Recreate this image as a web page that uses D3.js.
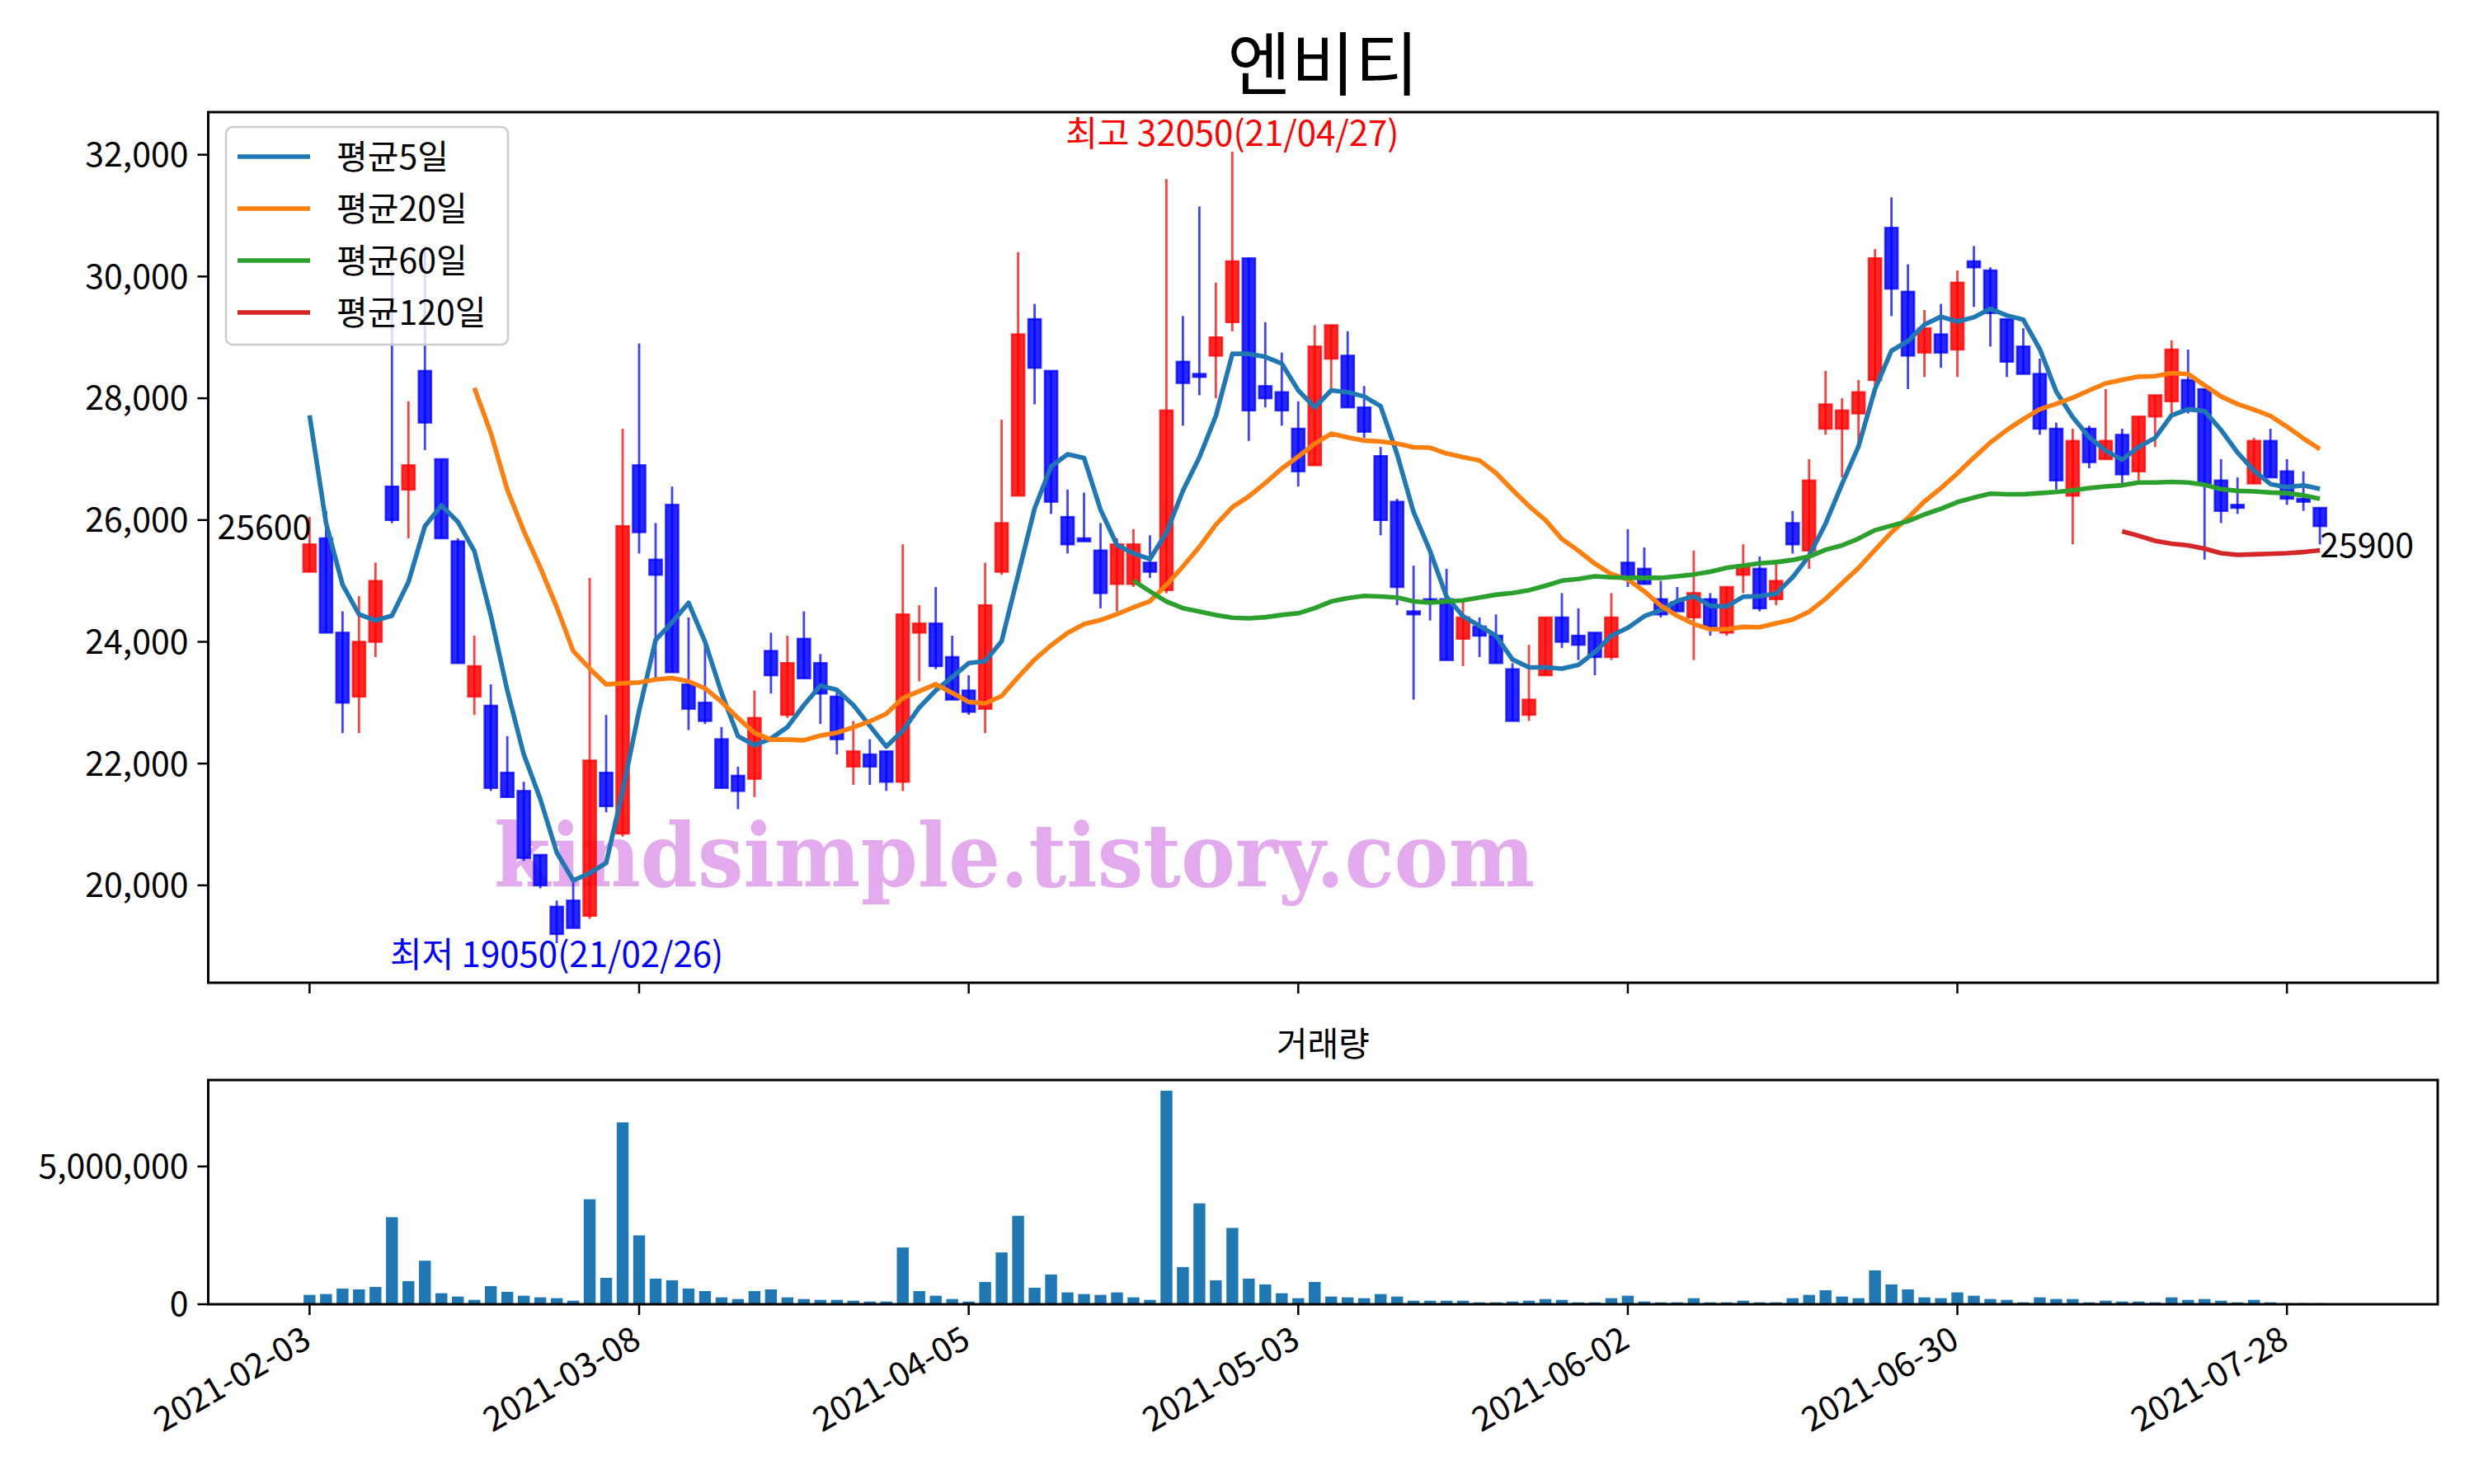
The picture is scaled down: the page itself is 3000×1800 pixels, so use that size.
<!DOCTYPE html>
<html><head><meta charset="utf-8">
<script src="https://cdn.jsdelivr.net/npm/d3@7"></script>
<style>
body{margin:0;background:#fff}
text{font-family:"Noto Sans CJK KR","Noto Sans",sans-serif}
</style>
</head><body>
<svg id="c" width="3000" height="1800" xmlns="http://www.w3.org/2000/svg"></svg>
<script>
// ---------------- data ----------------
const title = "엔비티";
const tickIdx = [0, 20, 40, 60, 80, 100, 120];
const tickLabels = ["2021-02-03","2021-03-08","2021-04-05","2021-05-03","2021-06-02","2021-06-30","2021-07-28"];
const priceTicks = [20000, 22000, 24000, 26000, 28000, 30000, 32000];
const volumeTicks = [0, 5000000];

const open = [25150,25700,24150,23100,24000,26550,26500,28450,27000,25650,
23100,22950,21850,21550,20500,19650,19750,19500,21850,20850,
26900,25350,26250,23300,23000,22400,21800,21750,23850,22800,
24050,23650,23100,21950,22150,22200,21700,24150,24300,23750,
23200,22900,25150,26400,29300,28450,26050,25700,25500,24950,
24950,25300,24850,28600,28400,28700,29250,30300,28200,28100,
27500,26900,28650,28700,27850,27050,26300,24500,24700,24700,
24050,24250,24100,23550,22800,23450,24400,24100,24150,23750,
25300,25200,24700,24650,24400,24700,24150,25100,25200,24700,
25950,25500,27500,27500,27750,28300,30800,29750,28750,29050,
28800,30250,30100,29300,28850,28400,27500,26400,27500,27000,
27400,26800,27700,27950,28300,28150,26650,26250,26600,27300,
26800,26350,26200];
const high = [26050,26150,24500,24750,25300,30100,27950,30500,27000,25700,
24100,23300,22450,21700,20500,19750,20050,25050,22800,27500,
28900,25950,26550,24400,24000,22600,21950,23200,24150,24100,
24500,23800,23200,22700,22400,22200,25600,24600,24900,24100,
23450,25300,27650,30400,29550,28450,26500,26450,25950,25700,
25850,25750,31600,29350,31150,29900,32050,30300,29250,28750,
27950,29200,29200,29100,28200,27200,26350,25250,25500,25200,
24700,24400,24450,23650,23950,24400,24800,24550,24150,24800,
25850,25550,25000,24900,25500,24800,24900,25600,25400,25350,
26150,27000,28450,28000,28300,30450,31300,30200,29450,29550,
30100,30500,30150,29300,29150,28650,27600,27500,27550,28150,
27500,27700,28050,28950,28800,28150,27000,26700,27350,27500,
27000,26800,26200];
const low = [25150,24150,22500,22500,23750,25950,25700,27150,25700,23650,
22800,21550,21450,20400,19950,19050,19300,19450,21200,20800,
25450,23350,23500,22550,22650,21600,21250,21450,23150,22750,
23400,22650,22150,21650,21650,21550,21550,23350,23550,23050,
22800,22500,25100,26400,27900,26100,25450,25650,24550,24500,
24900,25050,24800,27550,28050,28000,29100,27300,27850,27550,
26550,26900,28150,27850,27350,25750,24600,23050,24350,23700,
23600,23750,23650,22700,22700,23450,23900,23700,23450,23700,
24900,24950,24400,24500,23700,24100,24100,24800,24500,24600,
25450,25200,27400,26700,27250,28050,29350,28150,28350,28500,
28350,29500,28850,28350,28400,27400,26500,25600,26850,27000,
26600,26650,27200,27750,27750,25350,25950,26100,26600,26700,
26250,26150,25600];
const close = [25600,24150,23000,24000,25000,26000,26900,27600,25700,23650,
23600,21600,21450,20450,20000,19200,19300,22050,21300,25900,
25800,25100,23500,22900,22700,21600,21550,22750,23450,23650,
23400,23150,22400,22200,21950,21700,24450,24300,23600,23050,
22850,24600,25950,29050,28500,26300,25600,25650,24800,25600,
25600,25150,27800,28250,28350,29000,30250,27800,28000,27800,
26800,28850,29200,27850,27450,26000,24900,24450,24650,23700,
24400,24100,23650,22700,23050,24400,24000,23950,23750,24400,
25050,24950,24450,24500,24800,24250,24900,25250,24550,25000,
25600,26650,27900,27800,28100,30300,29800,28700,29150,28750,
29900,30150,29400,28600,28400,27500,26650,27300,26950,27300,
26750,27700,28050,28800,27800,26600,26150,26200,27300,26700,
26350,26300,25900];
const volume = [340000,370000,570000,540000,630000,3160000,840000,1580000,400000,280000,
160000,660000,450000,310000,250000,220000,130000,3810000,960000,6600000,
2500000,930000,870000,570000,480000,250000,190000,480000,540000,250000,
190000,160000,160000,130000,100000,100000,2060000,480000,310000,190000,
100000,810000,1880000,3210000,600000,1080000,430000,370000,340000,430000,
250000,160000,7750000,1350000,3660000,870000,2770000,930000,720000,400000,
220000,810000,280000,250000,220000,370000,280000,130000,130000,130000,
130000,70000,70000,100000,130000,190000,160000,70000,70000,220000,
310000,100000,70000,70000,220000,70000,70000,130000,70000,70000,
220000,340000,510000,280000,220000,1230000,720000,540000,250000,220000,
430000,310000,190000,160000,70000,250000,190000,190000,70000,130000,
100000,100000,70000,250000,160000,190000,130000,70000,160000,70000,
40000,40000,40000];
const ma5 = [27720,25950,24940,24450,24350,24430,24980,25900,26240,25970,
25490,24430,23200,22150,21420,20540,20080,20200,20370,21550,
22870,24030,24320,24640,24000,23160,22450,22300,22410,22600,
22960,23280,23210,22960,22620,22280,22540,22920,23200,23420,
23650,23680,24010,25100,26190,26880,27080,27020,26170,25590,
25450,25360,25790,26480,27030,27710,28730,28730,28680,28570,
28130,27850,28130,28100,28030,27870,27080,26130,25490,24740,
24420,24260,24100,23710,23580,23580,23560,23620,23830,24100,
24230,24420,24520,24670,24750,24590,24580,24740,24750,24790,
25060,25410,25940,26590,27210,28150,28780,28940,29210,29340,
29260,29330,29470,29360,29290,28810,28110,27690,27360,27140,
26990,27200,27350,27720,27820,27790,27480,27110,26810,26590,
26540,26570,26510];
const ma20 = [null,null,null,null,null,null,null,null,null,null,
28170,27430,26500,25820,25220,24570,23850,23560,23300,23320,
23333,23380,23405,23350,23235,23015,22748,22505,22393,22393,
22383,22460,22508,22595,22693,22818,23075,23188,23303,23160,
23013,22988,23110,23418,23708,23943,24145,24290,24358,24455,
24565,24665,24935,25238,25558,25923,26213,26388,26608,26845,
27043,27255,27418,27358,27305,27290,27255,27195,27188,27093,
27033,26980,26773,26495,26230,26000,25688,25495,25283,25113,
25025,24830,24593,24425,24293,24205,24205,24245,24240,24305,
24365,24493,24705,24960,25213,25508,25798,26035,26305,26523,
26765,27025,27273,27478,27658,27820,27908,28010,28130,28245,
28303,28355,28363,28413,28398,28213,28030,27905,27813,27710,
27533,27340,27165];
const ma60 = [null,null,null,null,null,null,null,null,null,null,
null,null,null,null,null,null,null,null,null,null,
null,null,null,null,null,null,null,null,null,null,
null,null,null,null,null,null,null,null,null,null,
null,null,null,null,null,null,null,null,null,null,
25004,24829,24662,24552,24497,24441,24395,24386,24404,24441,
24469,24552,24662,24718,24755,24745,24727,24662,24644,24662,
24681,24727,24773,24801,24847,24921,25004,25031,25077,25059,
25050,25050,25050,25077,25105,25151,25216,25253,25290,25308,
25345,25400,25511,25584,25695,25833,25907,25981,26092,26184,
26294,26368,26433,26424,26424,26442,26461,26488,26525,26553,
26571,26617,26617,26627,26617,26580,26507,26479,26470,26452,
26442,26405,26350];
const ma120 = [null,null,null,null,null,null,null,null,null,null,
null,null,null,null,null,null,null,null,null,null,
null,null,null,null,null,null,null,null,null,null,
null,null,null,null,null,null,null,null,null,null,
null,null,null,null,null,null,null,null,null,null,
null,null,null,null,null,null,null,null,null,null,
null,null,null,null,null,null,null,null,null,null,
null,null,null,null,null,null,null,null,null,null,
null,null,null,null,null,null,null,null,null,null,
null,null,null,null,null,null,null,null,null,null,
null,null,null,null,null,null,null,null,null,null,
25815,25741,25658,25612,25584,25529,25455,25428,25437,25446,
25455,25474,25502];
const maNames = ["평균5일","평균20일","평균60일","평균120일"];
const maColors = ["#1f77b4","#ff7f0e","#2ca02c","#d62728"];
const hiLabel = "최고 32050(21/04/27)";
const loLabel = "최저 19050(21/02/26)";
const watermark = "kindsimple.tistory.com";

// ---------------- layout ----------------
const svg = d3.select("#c");
const L = 252.5, R = 2956;
const mainTop = 136, mainBot = 1192;
const volTop = 1310, volBot = 1582;
const FS = 41;
const n = close.length;
const idx = d3.range(n);

const x = d3.scaleLinear().domain([-0.05 * n, 1.05 * n]).range([L, R]);
const lo = d3.min(low), hi = d3.max(high), rr = hi - lo;
const y = d3.scaleLinear().domain([lo - 0.05 * rr, hi + 0.05 * rr]).range([mainBot, mainTop]);
const yv = d3.scaleLinear().domain([0, d3.max(volume) * 1.05]).range([volBot, volTop]);
const step = x(1) - x(0);

svg.append("rect").attr("width", 3000).attr("height", 1800).attr("fill", "#fff");

// title
svg.append("text").attr("x", (L + R) / 2).attr("y", 109).attr("text-anchor", "middle")
  .attr("font-size", 84).attr("fill", "#000").text(title);

// watermark
svg.append("text").attr("x", 1230).attr("y", 1075).attr("text-anchor", "middle")
  .attr("font-weight", "bold")
  .attr("font-size", 106).attr("fill", "#e3aaee")
  .attr("textLength", 1262).attr("lengthAdjust", "spacingAndGlyphs")
  .style("font-family", "'DejaVu Serif', serif").text(watermark);

// candles
const cg = svg.append("g");
idx.forEach(i => {
  const up = close[i] >= open[i];
  const col = up ? "#ff0000" : "#0000ff";
  const cx = x(i);
  cg.append("line").attr("x1", cx).attr("x2", cx).attr("y1", y(high[i])).attr("y2", y(low[i]))
    .attr("stroke", col).attr("stroke-opacity", 0.75).attr("stroke-width", 2.8);
  const t = y(Math.max(open[i], close[i])), b = y(Math.min(open[i], close[i]));
  const bw = step * 0.76;
  cg.append("rect").attr("x", cx - bw / 2).attr("y", t).attr("width", bw).attr("height", Math.max(b - t, 1.5))
    .attr("fill", col).attr("fill-opacity", 0.85)
    .attr("stroke", col).attr("stroke-opacity", 0.75).attr("stroke-width", 2.5);
});

// moving averages
const mas = [ma5, ma20, ma60, ma120];
mas.forEach((arr, k) => {
  const line = d3.line().defined(i => arr[i] != null).x(i => x(i)).y(i => y(arr[i]));
  svg.append("path").attr("d", line(idx)).attr("fill", "none")
    .attr("stroke", maColors[k]).attr("stroke-width", 5.6).attr("stroke-linejoin", "round");
});

// annotations
const iHi = high.indexOf(hi), iLo = low.indexOf(lo);
svg.append("text").attr("x", x(iHi)).attr("y", y(hi) - 7).attr("text-anchor", "middle")
  .attr("font-size", 42).attr("fill", "#ff0000").text(hiLabel);
svg.append("text").attr("x", x(iLo)).attr("y", y(lo) + 29).attr("text-anchor", "middle")
  .attr("font-size", 42).attr("fill", "#0000ff").text(loLabel);
svg.append("text").attr("x", x(0) + 2).attr("y", y(close[0]) - 6).attr("text-anchor", "end")
  .attr("font-size", FS).attr("fill", "#000").text(String(close[0]));
svg.append("text").attr("x", x(n - 1)).attr("y", y(close[n - 1]) + 38).attr("text-anchor", "start")
  .attr("font-size", FS).attr("fill", "#000").text(String(close[n - 1]));

// volume bars
svg.append("g").selectAll("rect").data(idx).join("rect")
  .attr("x", i => x(i) - step * 0.36).attr("width", step * 0.72)
  .attr("y", i => yv(volume[i])).attr("height", i => yv(0) - yv(volume[i]))
  .attr("fill", "#1f77b4");

// volume title
svg.append("text").attr("x", (L + R) / 2).attr("y", 1281).attr("text-anchor", "middle")
  .attr("font-size", FS).attr("fill", "#000").text("거래량");

// frames
[[mainTop, mainBot], [volTop, volBot]].forEach(([t, b]) => {
  svg.append("rect").attr("x", L).attr("y", t).attr("width", R - L).attr("height", b - t)
    .attr("fill", "none").attr("stroke", "#000").attr("stroke-width", 3);
});

// y ticks
const fmt = d3.format(",");
priceTicks.forEach(v => {
  svg.append("line").attr("x1", L - 13).attr("x2", L).attr("y1", y(v)).attr("y2", y(v))
    .attr("stroke", "#000").attr("stroke-width", 2.5);
  svg.append("text").attr("x", L - 24).attr("y", y(v)).attr("dy", "0.35em").attr("text-anchor", "end")
    .attr("font-size", FS).attr("fill", "#000").text(fmt(v));
});
volumeTicks.forEach(v => {
  svg.append("line").attr("x1", L - 13).attr("x2", L).attr("y1", yv(v)).attr("y2", yv(v))
    .attr("stroke", "#000").attr("stroke-width", 2.5);
  svg.append("text").attr("x", L - 24).attr("y", yv(v)).attr("dy", "0.35em").attr("text-anchor", "end")
    .attr("font-size", FS).attr("fill", "#000").text(fmt(v));
});

// x ticks
tickIdx.forEach((t, k) => {
  [mainBot, volBot].forEach(b => {
    svg.append("line").attr("x1", x(t)).attr("x2", x(t)).attr("y1", b).attr("y2", b + 13)
      .attr("stroke", "#000").attr("stroke-width", 2.5);
  });
  svg.append("text").attr("transform", `translate(${x(t) - 12},${volBot + 22}) rotate(-30)`)
    .attr("text-anchor", "end").attr("dy", "0.8em")
    .attr("font-size", FS).attr("fill", "#000").text(tickLabels[k]);
});

// legend
const lg = svg.append("g");
lg.append("rect").attr("x", 274).attr("y", 154).attr("width", 342).attr("height", 264).attr("rx", 8)
  .attr("fill", "#fff").attr("fill-opacity", 0.8).attr("stroke", "#cccccc").attr("stroke-width", 2.5);
maNames.forEach((nm, k) => {
  const cy = 190 + k * 63;
  lg.append("line").attr("x1", 288).attr("x2", 376).attr("y1", cy).attr("y2", cy)
    .attr("stroke", maColors[k]).attr("stroke-width", 5.6);
  lg.append("text").attr("x", 408).attr("y", cy).attr("dy", "0.36em")
    .attr("font-size", FS).attr("fill", "#000").text(nm);
});
</script>
</body></html>
